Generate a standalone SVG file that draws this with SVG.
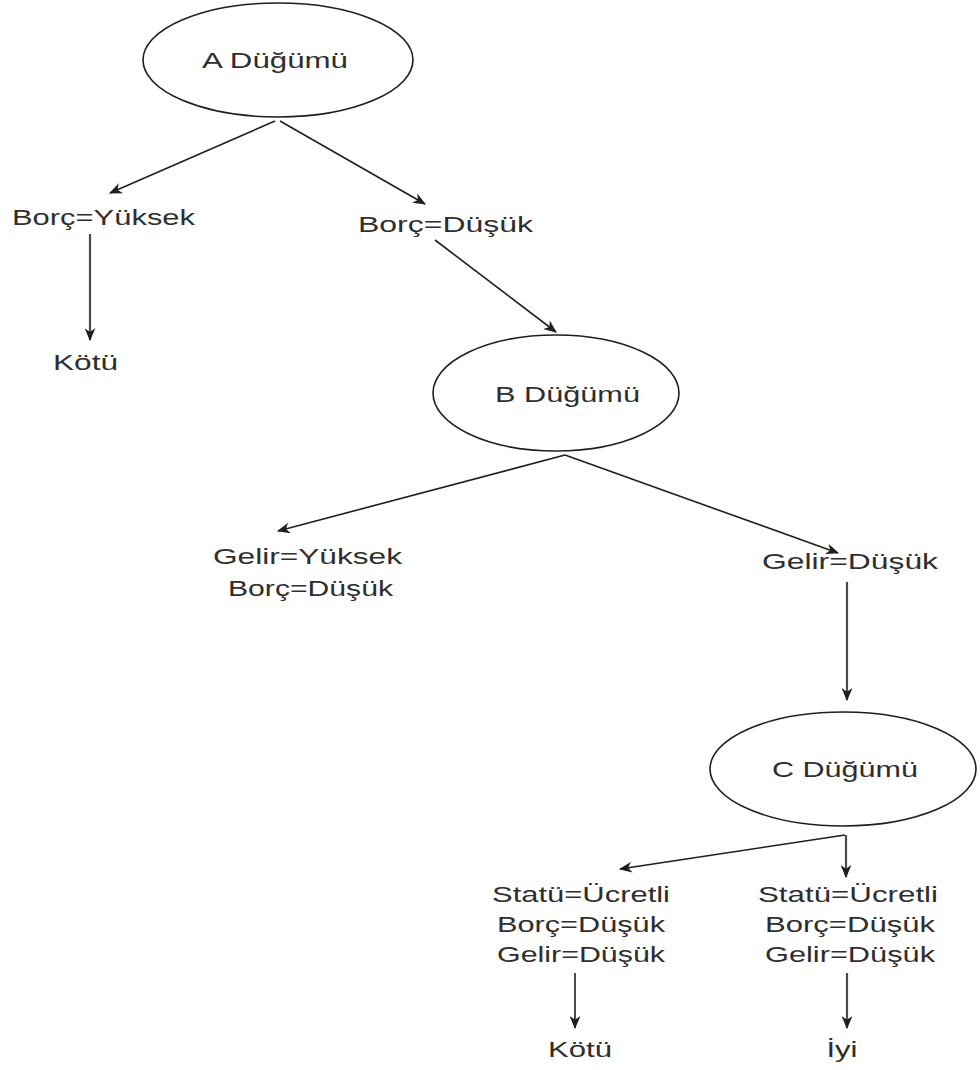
<svg xmlns="http://www.w3.org/2000/svg" width="980" height="1070" viewBox="0 0 980 1070">
<style>
.bg{fill:#ffffff}
.node{fill:#ffffff;stroke:#1e1e1e;stroke-width:1.6}
.t{font-family:"Liberation Sans",Arial,sans-serif;font-size:22px;fill:#2e2e2e;text-anchor:middle}
.c{stroke:#1e1e1e;stroke-width:1.6;fill:none;marker-end:url(#ah)}
.v{stroke:#4a4a4a;stroke-width:2.2;fill:none;marker-end:url(#ah)}
</style>
<defs>
<marker id="ah" viewBox="0 0 12 10" refX="11" refY="5" markerWidth="13" markerHeight="11" markerUnits="userSpaceOnUse" orient="auto">
<path d="M0,0 L12,5 L0,10 L3.5,5 z" fill="#1e1e1e"/>
</marker>
</defs>
<rect class="bg" x="0" y="0" width="980" height="1070"/>
<g id="connectors">
<line class="c" x1="275" y1="121" x2="110" y2="193"/>
<line class="c" x1="280" y1="121" x2="425" y2="204"/>
<line class="v" x1="90" y1="234" x2="90" y2="340"/>
<line class="c" x1="435" y1="240" x2="556" y2="332"/>
<line class="c" x1="565" y1="455" x2="278" y2="531"/>
<line class="c" x1="565" y1="455" x2="838" y2="553"/>
<line class="v" x1="847" y1="582" x2="847" y2="700"/>
<line class="c" x1="845" y1="835" x2="620" y2="869"/>
<line class="v" x1="846" y1="835" x2="846" y2="877"/>
<line class="c" x1="575" y1="973" x2="575" y2="1028"/>
<line class="v" x1="847" y1="973" x2="847" y2="1028"/>
</g>
<g id="nodeA">
<ellipse class="node" cx="278" cy="60" rx="135" ry="57"/>
<text class="t" x="275" y="68" textLength="146" lengthAdjust="spacingAndGlyphs">A Düğümü</text>
</g>
<g id="borcYuksek">
<text class="t" x="103.5" y="225" textLength="183" lengthAdjust="spacingAndGlyphs">Borç=Yüksek</text>
</g>
<g id="borcDusuk">
<text class="t" x="445.5" y="232" textLength="175" lengthAdjust="spacingAndGlyphs">Borç=Düşük</text>
</g>
<g id="kotu1">
<text class="t" x="85.5" y="370" textLength="65" lengthAdjust="spacingAndGlyphs">Kötü</text>
</g>
<g id="nodeB">
<ellipse class="node" cx="556" cy="393" rx="123" ry="58"/>
<text class="t" x="567.5" y="402" textLength="145" lengthAdjust="spacingAndGlyphs">B Düğümü</text>
</g>
<g id="gelirYuksek">
<text class="t" x="307.5" y="564" textLength="189" lengthAdjust="spacingAndGlyphs">Gelir=Yüksek</text>
<text class="t" x="310.5" y="596" textLength="165" lengthAdjust="spacingAndGlyphs">Borç=Düşük</text>
</g>
<g id="gelirDusuk">
<text class="t" x="850" y="569" textLength="176" lengthAdjust="spacingAndGlyphs">Gelir=Düşük</text>
</g>
<g id="nodeC">
<ellipse class="node" cx="843" cy="769" rx="133" ry="57"/>
<text class="t" x="845" y="777" textLength="146" lengthAdjust="spacingAndGlyphs">C Düğümü</text>
</g>
<g id="leafLeft">
<text class="t" x="581" y="902" textLength="178" lengthAdjust="spacingAndGlyphs">Statü=Ücretli</text>
<text class="t" x="581" y="932" textLength="168" lengthAdjust="spacingAndGlyphs">Borç=Düşük</text>
<text class="t" x="581" y="962" textLength="168" lengthAdjust="spacingAndGlyphs">Gelir=Düşük</text>
</g>
<g id="leafRight">
<text class="t" x="848" y="902" textLength="180" lengthAdjust="spacingAndGlyphs">Statü=Ücretli</text>
<text class="t" x="850" y="932" textLength="170" lengthAdjust="spacingAndGlyphs">Borç=Düşük</text>
<text class="t" x="850" y="962" textLength="170" lengthAdjust="spacingAndGlyphs">Gelir=Düşük</text>
</g>
<g id="kotu2">
<text class="t" x="580" y="1057" textLength="64" lengthAdjust="spacingAndGlyphs">Kötü</text>
</g>
<g id="iyi">
<text class="t" x="842" y="1057" textLength="31" lengthAdjust="spacingAndGlyphs">İyi</text>
</g>
</svg>
